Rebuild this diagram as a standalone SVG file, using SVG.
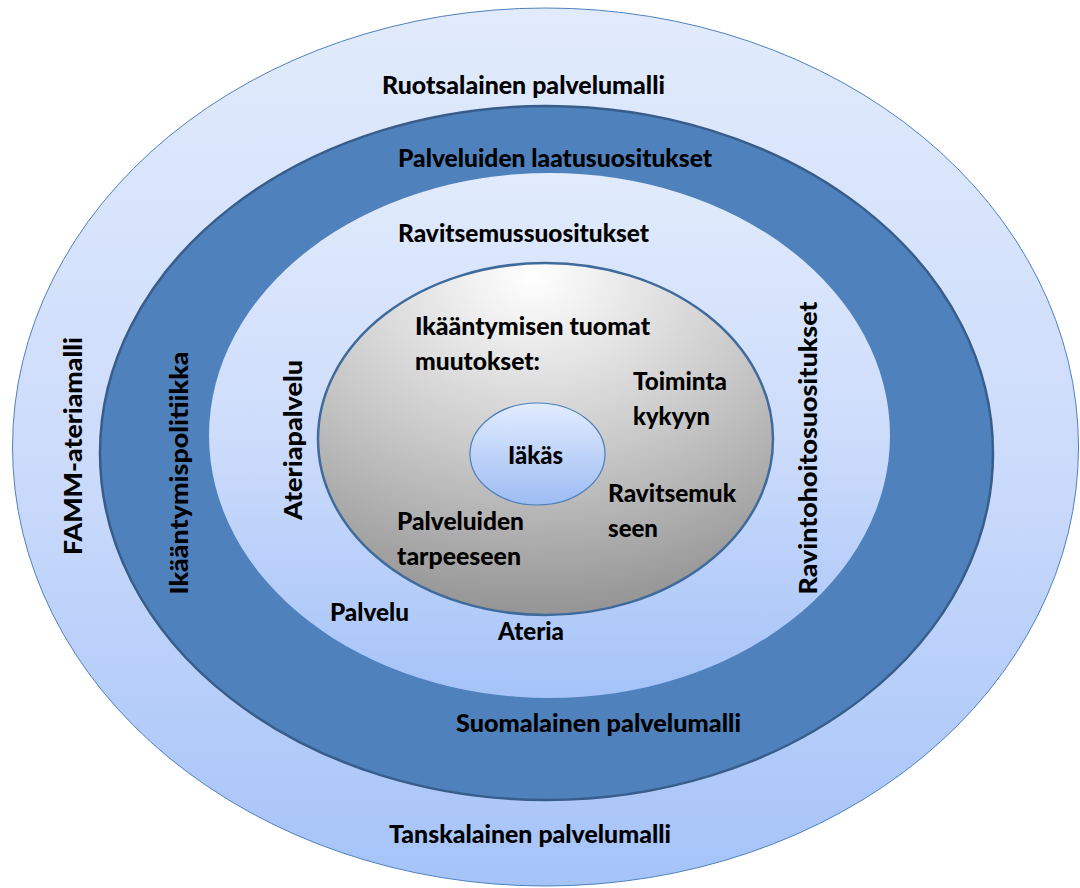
<svg xmlns="http://www.w3.org/2000/svg" width="1080" height="888" viewBox="0 0 1080 888">
  <defs>
    <linearGradient id="lightBlue" x1="0" y1="0" x2="0" y2="1">
      <stop offset="0" stop-color="#e1ebfc"/>
      <stop offset="0.5" stop-color="#cddcfb"/>
      <stop offset="1" stop-color="#a5c3f8"/>
    </linearGradient>
    <linearGradient id="coreBlue" x1="0" y1="0" x2="0" y2="1">
      <stop offset="0" stop-color="#e2ecff"/>
      <stop offset="1" stop-color="#9dbcf3"/>
    </linearGradient>
    <radialGradient id="greyCore" cx="0.47" cy="0.04" fx="0.47" fy="0.04" r="0.98">
      <stop offset="0" stop-color="#ffffff"/>
      <stop offset="0.5" stop-color="#cbcbcb"/>
      <stop offset="1" stop-color="#929292"/>
    </radialGradient>
    <style>
      .lbl { font-family: Lato, "Liberation Sans", sans-serif; font-weight: 900; font-size: 25px; fill: #000; }
      .mid { text-anchor: middle; }
    </style>
  </defs>

  <!-- outer ring: Nordic service models -->
  <g id="outer-ring">
    <ellipse cx="545.5" cy="447" rx="533" ry="439" fill="url(#lightBlue)" stroke="#4f81bd" stroke-width="1"/>
    <text class="lbl" x="382" y="94" textLength="283" lengthAdjust="spacingAndGlyphs">Ruotsalainen palvelumalli</text>
    <text class="lbl" x="389" y="843" textLength="282" lengthAdjust="spacingAndGlyphs">Tanskalainen palvelumalli</text>
    <text class="lbl mid" x="82" y="446" transform="rotate(-90 82 446)" textLength="218" lengthAdjust="spacingAndGlyphs">FAMM-ateriamalli</text>
  </g>

  <!-- policy ring -->
  <g id="policy-ring">
    <ellipse cx="546.5" cy="453" rx="446.5" ry="347" fill="#4f81bd" stroke="#385d8a" stroke-width="2.5"/>
    <text class="lbl" x="398" y="167" textLength="314" lengthAdjust="spacingAndGlyphs">Palveluiden laatusuositukset</text>
    <text class="lbl" x="456" y="732" textLength="285" lengthAdjust="spacingAndGlyphs">Suomalainen palvelumalli</text>
    <text class="lbl mid" x="188" y="473" transform="rotate(-90 188 473)" textLength="243" lengthAdjust="spacingAndGlyphs">Ikääntymispolitiikka</text>
  </g>

  <!-- recommendations ring -->
  <g id="recommendations-ring">
    <ellipse cx="549.5" cy="435.5" rx="340.5" ry="262.5" fill="url(#lightBlue)"/>
    <text class="lbl" x="398" y="242" textLength="251" lengthAdjust="spacingAndGlyphs">Ravitsemussuositukset</text>
    <text class="lbl mid" x="302" y="440" transform="rotate(-90 302 440)" textLength="160" lengthAdjust="spacingAndGlyphs">Ateriapalvelu</text>
    <text class="lbl mid" x="817" y="448" transform="rotate(-90 817 448)" textLength="293" lengthAdjust="spacingAndGlyphs">Ravintohoitosuositukset</text>
    <text class="lbl" x="330" y="621" textLength="79" lengthAdjust="spacingAndGlyphs">Palvelu</text>
    <text class="lbl" x="498" y="640" textLength="66" lengthAdjust="spacingAndGlyphs">Ateria</text>
  </g>

  <!-- ageing changes -->
  <g id="ageing-changes">
    <ellipse cx="545.5" cy="439" rx="227.5" ry="176" fill="url(#greyCore)" stroke="#3f6b9c" stroke-width="2.5"/>
    <text class="lbl" x="415" y="335" textLength="235" lengthAdjust="spacingAndGlyphs">Ikääntymisen tuomat</text>
    <text class="lbl" x="415" y="370" textLength="125" lengthAdjust="spacingAndGlyphs">muutokset:</text>
    <text class="lbl" x="633" y="390" textLength="94" lengthAdjust="spacingAndGlyphs">Toiminta</text>
    <text class="lbl" x="633" y="425" textLength="77" lengthAdjust="spacingAndGlyphs">kykyyn</text>
    <text class="lbl" x="608" y="502" textLength="128" lengthAdjust="spacingAndGlyphs">Ravitsemuk</text>
    <text class="lbl" x="608" y="537" textLength="50" lengthAdjust="spacingAndGlyphs">seen</text>
    <text class="lbl" x="397" y="530" textLength="127" lengthAdjust="spacingAndGlyphs">Palveluiden</text>
    <text class="lbl" x="397" y="565" textLength="124" lengthAdjust="spacingAndGlyphs">tarpeeseen</text>
  </g>

  <!-- the elderly person -->
  <g id="elderly">
    <ellipse cx="537.5" cy="454" rx="67.5" ry="51" fill="url(#coreBlue)" stroke="#4a7ebb" stroke-width="1.2"/>
    <text class="lbl" x="508" y="464" textLength="55" lengthAdjust="spacingAndGlyphs">Iäkäs</text>
  </g>

  <g id="connectors"/>
</svg>
